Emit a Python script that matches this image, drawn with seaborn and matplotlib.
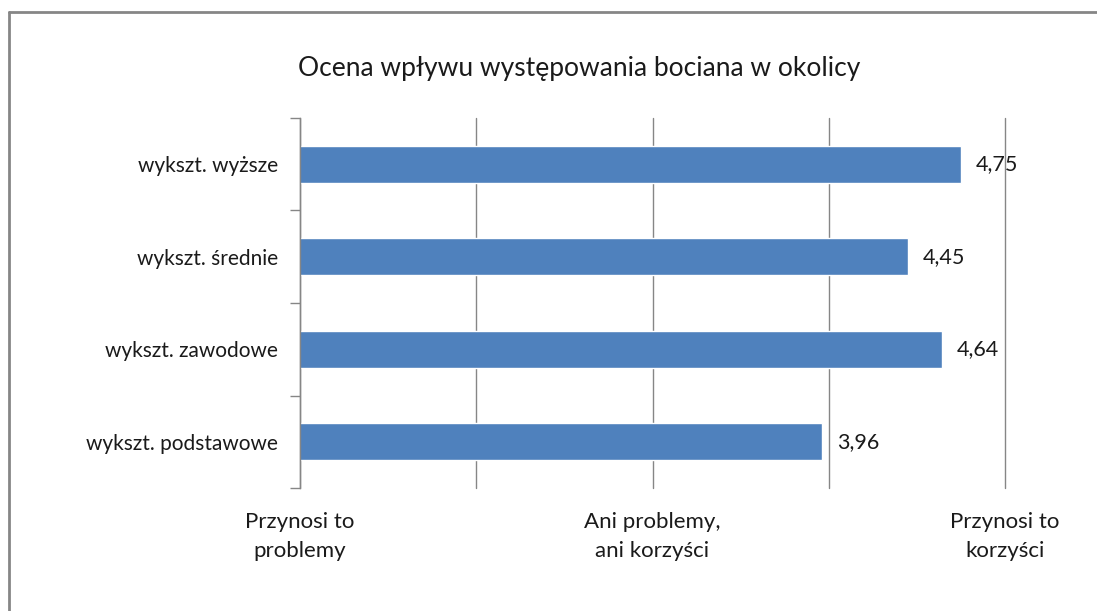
import matplotlib
matplotlib.use('Agg')
import matplotlib.pyplot as plt
import seaborn as sns
import pandas as pd

# Dane
kategorie = ['wykszt. wyższe', 'wykszt. średnie', 'wykszt. zawodowe', 'wykszt. podstawowe']
oceny = [4.75, 4.45, 4.64, 3.96]
etykiety_x = ['Przynosi to\nproblemy', '', 'Ani problemy,\nani korzyści', '', 'Przynosi to\nkorzyści']
pozycje_x = [1, 2, 3, 4, 5]

df = pd.DataFrame({'kategoria': kategorie, 'ocena': oceny})

sns.set_style('white')
plt.rcParams['font.family'] = ['Lato', 'DejaVu Sans']

fig = plt.figure(figsize=(10.97, 6.11), dpi=100)
ax = fig.add_axes([0.2735, 0.2013, 0.6427, 0.6056])

sns.barplot(data=df, y='kategoria', x='ocena', color='#4F81BD', saturation=1, width=0.4,
            orient='h', ax=ax, zorder=3)

ax.set_xlim(1, 5)
ax.set_xticks(pozycje_x)
ax.set_xticklabels(etykiety_x, fontsize=16, color='#1a1a1a', linespacing=1.6)
ax.tick_params(axis='x', length=0, pad=17)
ax.grid(axis='x', color='#868686', linewidth=1, zorder=0)
ax.grid(axis='y', visible=False)
for gl in ax.get_xgridlines():
    gl.set_clip_on(False)

# Znaczniki na osi Y na granicach kategorii
ax.set_yticks([-0.5, 0.5, 1.5, 2.5, 3.5], minor=True)
ax.tick_params(axis='y', which='minor', left=True, length=7, color='#868686', width=1)
ax.tick_params(axis='y', which='major', left=False, length=0, pad=16, labelsize=15,
               labelcolor='#1a1a1a')
ax.set_ylim(3.5, -0.5)

for s in ['top', 'right', 'bottom']:
    ax.spines[s].set_visible(False)
ax.spines['left'].set_color('#868686')
ax.spines['left'].set_linewidth(1)
ax.spines['left'].set_zorder(5)

for i, v in enumerate(oceny):
    ax.text(v + 0.085, i, f'{v:.2f}'.replace('.', ','), va='center', ha='left',
            fontsize=15.5, color='#1a1a1a', zorder=4)

ax.set_xlabel('')
ax.set_ylabel('')

fig.text(0.528, 0.888, 'Ocena wpływu występowania bociana w okolicy', ha='center',
         va='center', fontsize=19, color='#1a1a1a')

# Ramka wykresu
fig.add_artist(plt.Line2D([9 / 1097, 9 / 1097], [0, 1 - 12 / 611], transform=fig.transFigure,
                          color='#868686', linewidth=2))
fig.add_artist(plt.Line2D([9 / 1097, 1], [1 - 12 / 611, 1 - 12 / 611], transform=fig.transFigure,
                          color='#868686', linewidth=2))

fig.savefig('out.png', dpi=100)
